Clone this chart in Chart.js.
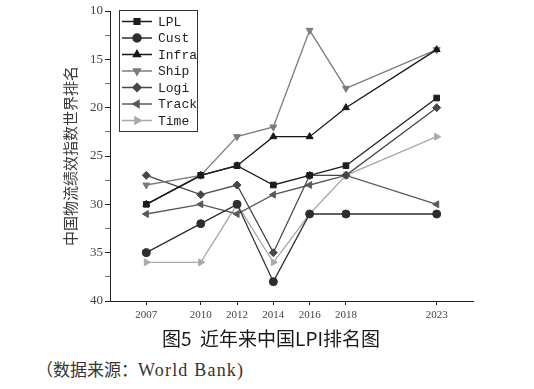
<!DOCTYPE html>
<html>
<head>
<meta charset="utf-8">
<script src="https://cdn.jsdelivr.net/npm/chart.js@4.4.0/dist/chart.umd.min.js"></script>
<style>
    body { margin: 0; background: #fff; }
    #wrap { position: relative; width: 534px; height: 389px; }
    #box { position: absolute; left: 0; top: 0; width: 534px; height: 330px; }
    #title { position: absolute; left: 0; width: 534px; top: 324px; text-align: center;
             font: 19px "Noto Sans CJK SC", sans-serif; color: #1a1a1a; padding-left: 8px; box-sizing: border-box; }
    #source { position: absolute; left: 36px; top: 356px; font: 17px "Liberation Serif", "Noto Sans CJK SC", serif; color: #333; }
    #source .en { font-size: 18px; letter-spacing: 1.2px; }
</style>
</head>
<body>
<div id="wrap">
    <div id="box"><canvas id="lpi" width="534" height="330"></canvas></div>
    <div id="title">图5&nbsp;&nbsp;近年来中国LPI排名图</div>
    <div id="source"><span style="font-family:'Noto Sans CJK SC'">（数据来源：</span><span class="en">World Bank)</span></div>
</div>
<script>
// years of the survey and China's rank per indicator
const years = [2007, 2010, 2012, 2014, 2016, 2018, 2023];
const lpl   = [30, 27, 26, 28, 27, 26, 19];
const cust  = [35, 32, 30, 38, 31, 31, 31];
const infra = [30, 27, 26, 23, 23, 20, 14];
const ship  = [28, 27, 23, 22, 12, 18, 14];
const logi  = [27, 29, 28, 35, 27, 27, 20];
const track = [31, 30, 31, 29, 28, 27, 30];
const time  = [36, 36, 30, 36, 31, 27, 23];
// major ticks every 5, minor (unlabelled) ones between
const yTicks = [10, 12.5, 15, 17.5, 20, 22.5, 25, 27.5, 30, 32.5, 35, 37.5, 40];

function series(label, vals, color, style, rot){
    return {
        label: label,
        data: years.map((yr, i) => { return { x: yr, y: vals[i] }; }),
        borderColor: color,
        backgroundColor: color,
        borderWidth: 1.3,
        pointStyle: style,
        pointRotation: rot,
        pointRadius: 4,
        pointBorderWidth: 1,
        tension: 0,
        fill: false,
    };
}

const datasets = [
    series("LPL", lpl, "#1c1c1c", "rect", 0),
    series("Cust", cust, "#2e2e2e", "circle", 0),
    series("Infra", infra, "#161616", "triangle", 0),
    series("Ship", ship, "#7c7c7c", "triangle", 180),
    series("Logi", logi, "#474747", "rectRot", 0),
    series("Track", track, "#5a5a5a", "triangle", -90),
    series("Time", time, "#a9a9a9", "triangle", 90),
];

// legend drawn inside the plot, top left
const boxLegend = {
    id: "boxLegend",
    afterDraw(chart){
        const ctx = chart.ctx;
        const x0 = 119.5, y0 = 10.5, w = 78, h = 121;
        ctx.save();
        ctx.fillStyle = "#fff";
        ctx.fillRect(x0, y0, w, h);
        ctx.strokeStyle = "#333";
        ctx.lineWidth = 1;
        ctx.strokeRect(x0, y0, w, h);
        chart.data.datasets.forEach((ds, i) => {
            let y = 21.5 + i * 16.5;
            ctx.strokeStyle = ds.borderColor;
            ctx.fillStyle = ds.backgroundColor;
            ctx.lineWidth = 1.5;
            ctx.beginPath();
            ctx.moveTo(122, y);
            ctx.lineTo(152, y);
            ctx.stroke();
            Chart.helpers.drawPoint(ctx, {
                pointStyle: ds.pointStyle,
                rotation: ds.pointRotation,
                radius: 4,
                borderWidth: 1,
            }, 137, y);
            ctx.fillStyle = "#222";
            ctx.font = "13px 'Liberation Mono', monospace";
            ctx.textBaseline = "middle";
            ctx.textAlign = "left";
            ctx.fillText(ds.label, 158, y + 1);
        });
        ctx.restore();
    },
};

new Chart("lpi", {
    type: "line",
    data: { datasets: datasets },
    plugins: [boxLegend],
    options: {
        responsive: false,
        animation: false,
        layout: { padding: { left: 61, right: 61, top: 11, bottom: 0 } },
        plugins: {
            legend: { display: false },
            tooltip: { enabled: false },
        },
        scales: {
            x: {
                type: "linear",
                min: 2005,
                max: 2025,
                afterBuildTicks: (s) => { s.ticks = years.map((v) => { return { value: v }; }); },
                afterFit: (s) => { s.height = 29; },
                grid: { drawOnChartArea: false, drawTicks: true, tickLength: 4, color: "#222" },
                border: { display: true, color: "#222", width: 1 },
                ticks: {
                    padding: 4,
                    color: "#444",
                    font: { family: "Liberation Serif", size: 11 },
                    maxRotation: 0,
                    callback: (v) => String(v),
                },
            },
            y: {
                reverse: true,
                min: 10,
                max: 40,
                afterBuildTicks: (s) => { s.ticks = yTicks.map((v) => { return { value: v }; }); },
                afterFit: (s) => { s.width = 49; },
                grid: {
                    drawOnChartArea: false,
                    drawTicks: true,
                    tickLength: 5,
                    color: (c) => (c.tick && c.tick.value % 5 !== 0) ? "rgba(0,0,0,0.55)" : "#222",
                },
                border: { display: true, color: "#222", width: 1 },
                ticks: {
                    padding: 2,
                    color: "#444",
                    font: { family: "Liberation Serif", size: 13 },
                    callback: (v) => (v % 5 === 0) ? String(v) : "",
                },
                title: {
                    display: true,
                    text: "中国物流绩效指数世界排名",
                    color: "#3a3a3a",
                    font: { family: "Noto Sans CJK SC", size: 15 },
                    padding: { top: 0, bottom: 0 },
                },
            },
        },
    },
});
</script>
</body>
</html>
